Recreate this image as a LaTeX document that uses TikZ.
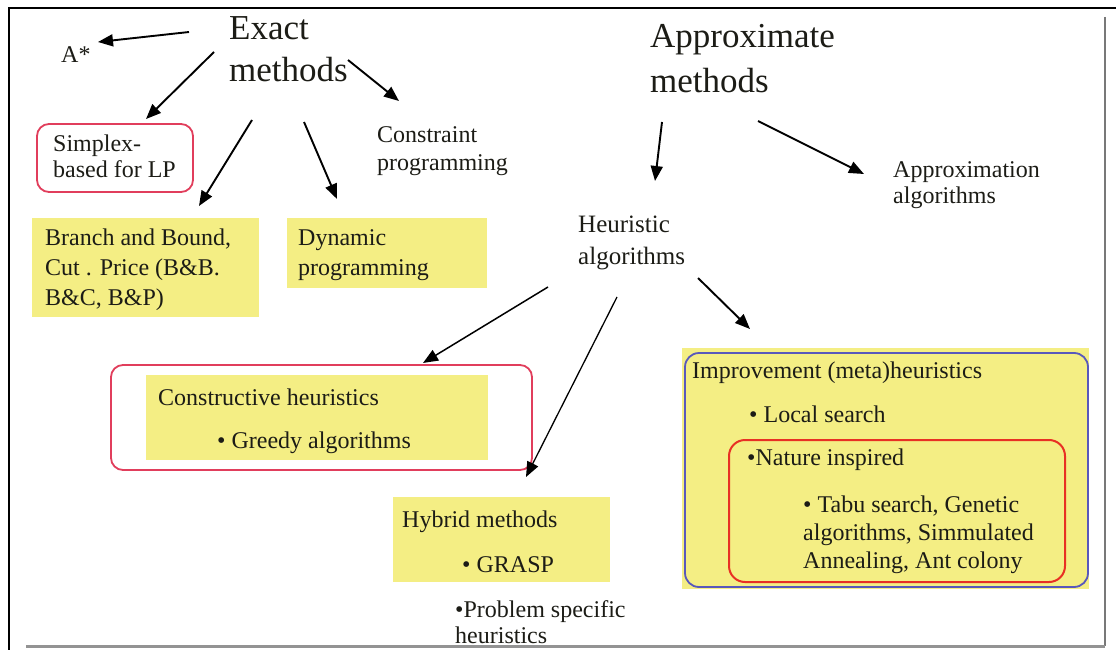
\documentclass[tikz,border=0pt]{standalone}
\usepackage{fontspec}
\setmainfont{Liberation Serif}
\newfontfamily\slidefont{Liberation Serif}
\usetikzlibrary{arrows.meta}

\definecolor{boxyellow}{RGB}{244,238,132}
\definecolor{pinkred}{RGB}{225,62,92}
\definecolor{natred}{RGB}{232,48,36}
\definecolor{metablue}{RGB}{88,88,188}
\definecolor{ink}{RGB}{28,28,22}
\definecolor{edgegray}{RGB}{120,120,120}

% Multi-line nodes are placed by the baseline of their last line.
\tikzset{
  bigtext/.style={anchor=base west, inner sep=0pt, align=left, text=ink,
    font=\slidefont\fontsize{35}{42}\selectfont},
  smalltext/.style={anchor=base west, inner sep=0pt, align=left, text=ink,
    font=\slidefont\fontsize{24}{29}\selectfont},
  link/.style={draw=black, line width=1.9pt,
    -{Triangle[length=15pt,width=12pt]}},
  ringbox/.style={draw=pinkred, line width=1.8pt, rounded corners=12pt},
}

\begin{document}
\begin{tikzpicture}[x=1pt,y=-1pt]
\useasboundingbox (0,0) rectangle (1116,650);
\fill[white] (0,0) rectangle (1116,650);

% coloured panels
\fill[boxyellow] (32,218) rectangle (259,317);
\fill[boxyellow] (287,218) rectangle (487,288);
\fill[boxyellow] (146,375) rectangle (488,460);
\fill[boxyellow] (393,497) rectangle (610,582);
\fill[boxyellow] (682,348) rectangle (1089,589);

% outlines
\draw[ringbox] (37,124) rectangle (193,192);
\draw[ringbox] (111,365) rectangle (532,470);
\draw[metablue, line width=1.8pt, rounded corners=14pt] (685,353) rectangle (1088,587);
\draw[natred, line width=2pt, rounded corners=16pt] (729,440) rectangle (1065,582);

% headings
\node[bigtext] (exact) at (229,82) {Exact\\methods};
\node[bigtext, font=\slidefont\fontsize{35}{45}\selectfont] (approx) at (650,93) {Approximate\\methods};

% leaves of the exact branch
\node[smalltext] (astar) at (61,63) {A*};
\node[smalltext, font=\slidefont\fontsize{24}{25}\selectfont] (simplex) at (53,177) {Simplex-\\based for LP};
\node[smalltext, font=\slidefont\fontsize{24}{28}\selectfont] (constraint) at (377,170) {Constraint\\programming};
\node[smalltext, font=\slidefont\fontsize{24}{30}\selectfont] (bb) at (45,305) {Branch and Bound,\\Cut . Price (B\&B.\\B\&C, B\&P)};
\node[smalltext, font=\slidefont\fontsize{24}{30}\selectfont] (dynamic) at (298,275) {Dynamic\\programming};

% approximate branch
\node[smalltext, font=\slidefont\fontsize{24}{26}\selectfont] (approxalg) at (893,203) {Approximation\\algorithms};
\node[smalltext, font=\slidefont\fontsize{25}{32}\selectfont] (heur) at (578,264) {Heuristic\\algorithms};

\node[smalltext] (constructive) at (158,405) {Constructive heuristics};
\node[smalltext] (greedy) at (217,448) {• Greedy algorithms};

\node[smalltext] (hybrid) at (402,527) {Hybrid methods};
\node[smalltext] (grasp) at (462,572) {• GRASP};
\node[smalltext, font=\slidefont\fontsize{24}{26}\selectfont] (problem) at (455,643) {•Problem specific\\heuristics};

\node[smalltext] (improve) at (692,378) {Improvement (meta)heuristics};
\node[smalltext] (local) at (749,422) {• Local search};
\node[smalltext] (nature) at (747,465) {•Nature inspired};
\node[smalltext, font=\slidefont\fontsize{24}{28}\selectfont] (tabu) at (803,568) {• Tabu search, Genetic\\algorithms, Simmulated\\Annealing, Ant colony};

% arrow end points
\coordinate (e-astar) at (189,32);   \coordinate (t-astar) at (98,42);
\coordinate (e-simplex) at (214,52); \coordinate (t-simplex) at (146,119);
\coordinate (e-bb) at (252,120);     \coordinate (t-bb) at (199,206);
\coordinate (e-dyn) at (304,122);    \coordinate (t-dyn) at (337,199);
\coordinate (e-con) at (348,60);     \coordinate (t-con) at (399,101);
\coordinate (a-heur) at (662,122);   \coordinate (t-heur) at (655,181);
\coordinate (a-alg) at (758,121);    \coordinate (t-alg) at (864,174);
\coordinate (h-cons) at (548,287);   \coordinate (t-cons) at (423,363);
\coordinate (h-hyb) at (617,297);    \coordinate (t-hyb) at (526,477);
\coordinate (h-imp) at (698,278);    \coordinate (t-imp) at (750,329);

\draw[link] (e-astar) -- (t-astar);
\draw[link] (e-simplex) -- (t-simplex);
\draw[link] (e-bb) -- (t-bb);
\draw[link] (e-dyn) -- (t-dyn);
\draw[link] (e-con) -- (t-con);
\draw[link] (a-heur) -- (t-heur);
\draw[link] (a-alg) -- (t-alg);
\draw[link, line width=1.5pt] (h-cons) -- (t-cons);
\draw[link, line width=1.3pt] (h-hyb) -- (t-hyb);
\draw[link] (h-imp) -- (t-imp);

% slide frame
\draw[black, line width=2pt] (9,650) -- (9,8) -- (1116,8);
\draw[edgegray, line width=2.5pt] (1105,17) -- (1105,646);
\draw[edgegray!80, line width=3pt] (26,646) -- (1105,646);
\end{tikzpicture}
\end{document}
